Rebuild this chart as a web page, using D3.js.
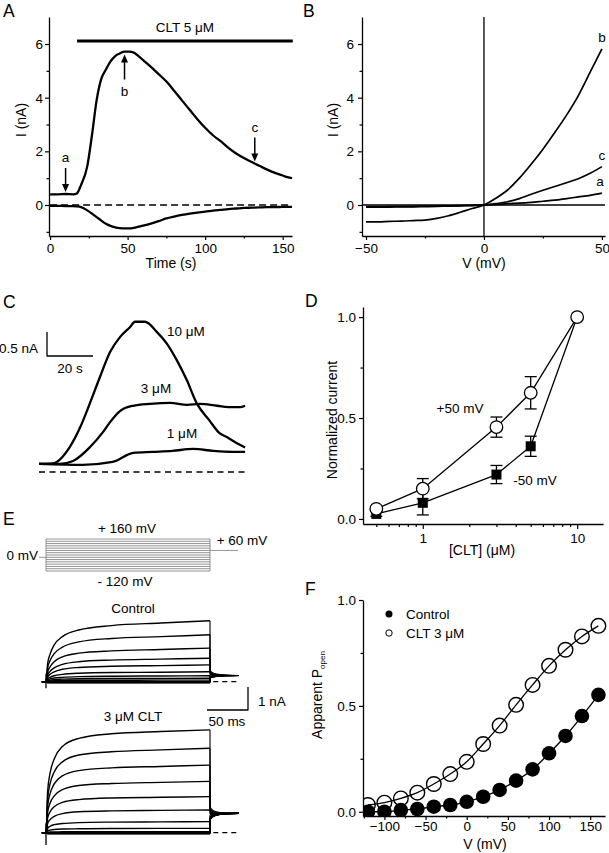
<!DOCTYPE html>
<html><head><meta charset="utf-8">
<script src="https://cdn.jsdelivr.net/npm/d3@7"></script>
<style>
html,body{margin:0;padding:0;background:#fff}
svg{display:block}
</style></head><body>
<svg id="fig" width="609" height="853"></svg>
<script>
// ================= DATA =================
// Panel A : current vs time
const aTime = [0,5,10,15,17,20,24,27,30,33,36,39,42,45,48,51,54,57,60,65,70,75,80,85,90,95,100,105,110,115,120,125,130,135,140,145,150,153,156];
const aOutward = [0.40,0.40,0.41,0.40,0.42,0.75,1.45,2.6,3.9,4.7,5.05,5.35,5.55,5.65,5.72,5.72,5.68,5.55,5.4,5.15,4.88,4.6,4.26,3.9,3.55,3.2,2.88,2.6,2.38,2.13,1.92,1.75,1.6,1.46,1.32,1.2,1.1,1.04,1.0];
const aInward = [-0.03,-0.03,-0.04,-0.04,-0.05,-0.08,-0.2,-0.32,-0.45,-0.58,-0.7,-0.78,-0.83,-0.86,-0.87,-0.87,-0.85,-0.81,-0.77,-0.69,-0.6,-0.5,-0.43,-0.37,-0.32,-0.28,-0.25,-0.21,-0.18,-0.15,-0.13,-0.11,-0.1,-0.09,-0.08,-0.08,-0.07,-0.07,-0.07];
const aMarkLabels = ['a','b','c'];
const aMarkTimes = [10,48,132];
const aMarkDirs = ['down','up','down'];
const aDrugLabel = 'CLT 5 μM';
const aDrugSpan = [17.4,156.5];
const aDrugLevel = 6.11;
const aYTicks = [0,2,4,6], aYMinor = [-1,1,3,5];
const aXTicks = [0,50,100,150], aXMinor = [25,75,125];

// Panel B : I-V ramps
const bVolt = [-50,-45,-40,-35,-30,-25,-20,-15,-10,-5,0,5,10,15,20,25,30,35,40,45,50];
const bTraceB = [-0.63,-0.63,-0.61,-0.6,-0.58,-0.56,-0.5,-0.4,-0.27,-0.13,0,0.25,0.56,1.0,1.52,2.08,2.7,3.35,4.08,4.95,5.82];
const bTraceC = [-0.06,-0.06,-0.05,-0.05,-0.05,-0.04,-0.04,-0.03,-0.02,-0.01,0,0.05,0.12,0.24,0.4,0.55,0.69,0.83,0.98,1.18,1.43];
const bTraceA = [-0.08,-0.08,-0.08,-0.07,-0.07,-0.06,-0.05,-0.04,-0.03,-0.02,0,0.02,0.05,0.07,0.1,0.14,0.18,0.24,0.3,0.36,0.44];
const bLabels = ['b','c','a'];
const bXTicks = [-50,0,50], bXMinor = [-25,25];

// Panel C : concentration traces (s, nA)
const c10T = [0,6,13.5,17.8,22.2,26.5,30.9,35.2,39.6,41.7,46.1,51.2,55.5,59.9,64.2,68.6,74,78.5,82,85,89.6];
const c10I = [0.17,0.18,0.53,0.92,1.44,1.98,2.5,2.81,3.02,3.13,3.13,2.92,2.68,2.33,1.92,1.43,1.08,0.81,0.72,0.63,0.51];
const c3T = [0,9,14.8,22.2,27.8,30.9,35.2,40.9,48.3,57,64.3,70,77.4,84.3,87.4,89.6];
const c3I = [0.17,0.17,0.23,0.52,0.83,1.04,1.27,1.38,1.42,1.44,1.40,1.42,1.38,1.35,1.35,1.38];
const c1T = [0,19,32,41,49.6,58,67,75.7,84.3,89.6];
const c1I = [0.17,0.15,0.21,0.40,0.42,0.44,0.48,0.44,0.42,0.42];
const cLabels = ['10 μM','3 μM','1 μM'];
const cBarI = 0.5, cBarT = 20;

// Panel D : concentration-response
const dConc = [0.5,1,3,5,10];
const dPos = [0.05,0.15,0.455,0.625,1.0];
const dPosErr = [0.012,0.05,0.05,0.08,0.0];
const dNeg = [0.025,0.08,0.22,0.36,1.0];
const dNegErr = [0.012,0.06,0.045,0.05,0.0];
const dSeriesLabels = ['+50 mV','-50 mV'];
const dXTicks = [1,10], dXMinor = [0.5,0.6,0.7,0.8,0.9,2,3,4,5,6,7,8,9];
const dYTicks = [0,0.5,1], dYMinor = [0.25,0.75];

// Panel E : voltage protocol and current families
const eVolts = [160,140,120,100,80,60,40,20,0,-20,-40,-60,-80,-100,-120];
const eTime = [-5,0,2,5,10,20,40,80,140,200];
const eTailTime = [200,201,205,212,222,235];
const eCtrl = [
 [0,0,0.8,1.2,1.6,1.96,2.25,2.44,2.55,2.65],
 [0,0,0.6,0.92,1.22,1.5,1.73,1.88,1.96,2.04],
 [0,0,0.42,0.65,0.87,1.08,1.24,1.34,1.4,1.46],
 [0,0,0.28,0.45,0.6,0.75,0.87,0.94,0.98,1.02],
 [0,0,0.2,0.32,0.43,0.54,0.62,0.67,0.7,0.73],
 [0,0,0.12,0.19,0.26,0.32,0.37,0.4,0.41,0.43],
 [0,0,0.08,0.12,0.16,0.19,0.22,0.24,0.25,0.26],
 [0,0,0.05,0.07,0.09,0.11,0.13,0.14,0.14,0.15],
 [0,0,0.02,0.03,0.04,0.05,0.06,0.06,0.07,0.07],
 [0,0,0,0,0,0,0,0,0,0],
 [0,0,-0.01,-0.01,-0.01,-0.01,-0.01,-0.01,-0.01,-0.01],
 [0,0,-0.02,-0.02,-0.02,-0.02,-0.02,-0.02,-0.02,-0.02],
 [0,0,-0.03,-0.03,-0.03,-0.03,-0.03,-0.03,-0.03,-0.03],
 [0,0,-0.04,-0.04,-0.04,-0.04,-0.04,-0.04,-0.04,-0.04],
 [0,0,-0.05,-0.05,-0.05,-0.05,-0.05,-0.05,-0.05,-0.05]];
const eCtrlTail = [
 [0.55,0.45,0.36,0.31,0.28,0.27],[0.5,0.42,0.34,0.3,0.28,0.27],[0.46,0.39,0.33,0.29,0.28,0.27],
 [0.42,0.37,0.31,0.29,0.27,0.27],[0.38,0.34,0.3,0.28,0.27,0.27],[0.34,0.31,0.29,0.28,0.27,0.27],
 [0.3,0.29,0.28,0.27,0.27,0.27],[0.26,0.26,0.26,0.27,0.27,0.27],[0.22,0.23,0.25,0.26,0.27,0.27],
 [0.19,0.21,0.24,0.26,0.27,0.27],[0.17,0.2,0.23,0.25,0.26,0.27],[0.16,0.19,0.22,0.25,0.26,0.27],
 [0.15,0.18,0.22,0.25,0.26,0.27],[0.15,0.18,0.22,0.24,0.26,0.27],[0.14,0.17,0.21,0.24,0.26,0.26]];
const eClt = [
 [0,0,1.8,2.6,3.2,3.75,4.1,4.3,4.4,4.47],
 [0,0,1.47,2.13,2.64,3.08,3.38,3.52,3.6,3.67],
 [0,0,1.18,1.7,2.12,2.47,2.7,2.82,2.88,2.94],
 [0,0,0.89,1.29,1.6,1.87,2.05,2.14,2.19,2.23],
 [0,0,0.63,0.91,1.13,1.32,1.44,1.51,1.54,1.57],
 [0,0,0.4,0.57,0.71,0.83,0.91,0.95,0.97,0.99],
 [0,0,0.19,0.28,0.35,0.4,0.44,0.46,0.47,0.48],
 [0,0,0.08,0.11,0.14,0.16,0.17,0.18,0.19,0.19],
 [0,0,0.02,0.03,0.03,0.04,0.04,0.04,0.04,0.04],
 [0,0,0,0,0,0,0,0,0,0],
 [0,0,-0.01,-0.01,-0.01,-0.01,-0.01,-0.01,-0.01,-0.01],
 [0,0,-0.02,-0.02,-0.02,-0.02,-0.02,-0.02,-0.02,-0.02],
 [0,0,-0.03,-0.03,-0.03,-0.03,-0.03,-0.03,-0.03,-0.03],
 [0,0,-0.04,-0.04,-0.04,-0.04,-0.04,-0.04,-0.04,-0.04],
 [0,0,-0.05,-0.05,-0.05,-0.05,-0.05,-0.05,-0.05,-0.05]];
const eCltTail = [
 [1.2,1.06,0.94,0.88,0.85,0.84],[1.12,1.0,0.91,0.87,0.85,0.84],[1.04,0.96,0.89,0.86,0.85,0.84],
 [0.97,0.92,0.87,0.85,0.84,0.84],[0.9,0.88,0.86,0.85,0.84,0.84],[0.83,0.84,0.84,0.84,0.84,0.84],
 [0.76,0.79,0.82,0.83,0.84,0.84],[0.68,0.73,0.79,0.82,0.83,0.84],[0.62,0.69,0.77,0.81,0.83,0.84],
 [0.58,0.66,0.75,0.8,0.83,0.84],[0.56,0.64,0.74,0.8,0.83,0.84],[0.55,0.63,0.74,0.8,0.83,0.84],
 [0.54,0.62,0.73,0.79,0.83,0.84],[0.54,0.62,0.73,0.79,0.82,0.84],[0.53,0.61,0.72,0.79,0.82,0.84]];
const eCapCtrl = [0.35,-0.28], eCapClt = [0.41,-0.53];
const eProtoLabels = ['+ 160 mV','+ 60 mV','0 mV','- 120 mV'];
const eTitles = ['Control','3 μM CLT'];
const eBarI = 1, eBarT = 50;

// Panel F : apparent Popen
const fVolt = [-120,-100,-80,-60,-40,-20,0,20,40,60,80,100,120,140,160];
const fControl = [0.0,0.0,0.008,0.013,0.024,0.032,0.047,0.071,0.103,0.147,0.2,0.276,0.358,0.452,0.552];
const fClt = [0.032,0.043,0.063,0.09,0.131,0.178,0.236,0.32,0.407,0.505,0.599,0.689,0.765,0.828,0.878];
const fLegend = ['Control','CLT 3 μM'];
const fXTicks = [-100,-50,0,50,100,150], fXMinor = [-125,-75,-25,25,75,125];
const fYTicks = [0,0.5,1], fYMinor = [0.25,0.75];

// ================= DRAWING =================
const FONT = '"Liberation Sans", Arial, Helvetica, sans-serif';
const FS = 13.5;
const svg = d3.select('#fig').attr('font-family', FONT);

function text(x, y, s, size = FS, anchor = 'start') {
  return svg.append('text').attr('x', x).attr('y', y).attr('font-size', size)
    .attr('text-anchor', anchor).attr('fill', '#000').text(s);
}
function vtext(x, y, s, size = 14) {
  return svg.append('text').attr('transform', `translate(${x},${y}) rotate(-90)`)
    .attr('font-size', size).attr('text-anchor', 'middle').attr('fill', '#000').text(s);
}
function styleAxis(g, fs) {
  g.attr('font-family', FONT).attr('font-size', fs);
  g.selectAll('.domain').attr('stroke', '#000').attr('stroke-width', 1.3);
  g.selectAll('.tick line').attr('stroke', '#000').attr('stroke-width', 1.2);
  g.selectAll('.tick text').attr('fill', '#000');
}
function leftAxis(scale, x, major, minor, fmt, pad = 3) {
  const g = svg.append('g').attr('transform', `translate(${x},0)`)
    .call(d3.axisLeft(scale).tickValues(major).tickSize(4).tickSizeOuter(0).tickPadding(pad).tickFormat(fmt));
  styleAxis(g, FS);
  if (minor) {
    const m = svg.append('g').attr('transform', `translate(${x},0)`)
      .call(d3.axisLeft(scale).tickValues(minor).tickSize(2.5).tickSizeOuter(0).tickFormat(''));
    m.select('.domain').remove(); styleAxis(m, FS);
  }
}
function bottomAxis(scale, y, major, minor, fmt, pad = 3) {
  const g = svg.append('g').attr('transform', `translate(0,${y})`)
    .call(d3.axisBottom(scale).tickValues(major).tickSize(4).tickSizeOuter(0).tickPadding(pad).tickFormat(fmt));
  styleAxis(g, FS);
  if (minor) {
    const m = svg.append('g').attr('transform', `translate(0,${y})`)
      .call(d3.axisBottom(scale).tickValues(minor).tickSize(2.5).tickSizeOuter(0).tickFormat(''));
    m.select('.domain').remove(); styleAxis(m, FS);
  }
}
function path(d, w = 1.5, dash = null, color = '#000') {
  const p = svg.append('path').attr('d', d).attr('fill', 'none').attr('stroke', color)
    .attr('stroke-width', w).attr('stroke-linejoin', 'round').attr('stroke-linecap', 'butt');
  if (dash) p.attr('stroke-dasharray', dash);
  return p;
}
function hline(x1, x2, y, w = 1.2, dash = null, color = '#000') {
  return path(`M${x1},${y}H${x2}`, w, dash, color);
}
function vline(x, y1, y2, w = 1.2, dash = null, color = '#000') {
  return path(`M${x},${y1}V${y2}`, w, dash, color);
}
function lerp(xs, ys, x) {
  const i = Math.max(1, d3.bisectLeft(xs, x));
  const t = (x - xs[i - 1]) / (xs[i] - xs[i - 1]);
  return ys[i - 1] + t * (ys[i] - ys[i - 1]);
}

// Panel letters
[['A',3,17],['B',303,17],['C',3,308],['D',305,307],['E',3,525],['F',305,595]]
  .forEach(([l,x,y]) => text(x, y, l, 17.5));

// ---------- Panel A ----------
{
  const x = d3.scaleLinear().domain([-0.7, 156]).range([49, 292]);
  const y = d3.scaleLinear().domain([-1.155, 7.007]).range([236, 17]);
  leftAxis(y, 49, aYTicks, aYMinor, d3.format('d'), 2);
  bottomAxis(x, 236, aXTicks, aXMinor, d3.format('d'));
  vtext(26, 120, 'I (nA)');
  text(171, 268, 'Time (s)', 14, 'middle');
  hline(x(0), x(156), y(0), 1.3, '7,4');
  const ln = d3.line().x(d => x(d[0])).y(d => y(d[1])).curve(d3.curveMonotoneX);
  path(ln(d3.zip(aTime, aOutward)), 2.3);
  path(ln(d3.zip(aTime, aInward)), 2.3);
  // drug application bar
  hline(x(aDrugSpan[0]), x(aDrugSpan[1]), y(aDrugLevel), 3);
  text((x(aDrugSpan[0]) + x(aDrugSpan[1])) / 2, 32, aDrugLabel, FS, 'middle');
  // arrows
  aMarkTimes.forEach((t, i) => {
    const xv = x(t), yt = y(lerp(aTime, aOutward, t));
    if (aMarkDirs[i] === 'down') {
      const tip = yt - 2, tail = tip - 24;
      vline(xv, tail, tip - 6, 1.5);
      svg.append('path').attr('d', `M${xv-3.5},${tip-8}L${xv+3.5},${tip-8}L${xv},${tip}Z`).attr('fill', '#000');
      text(xv, tail - 6, aMarkLabels[i], FS, 'middle');
    } else {
      const tip = yt + 3, tail = tip + 25;
      vline(xv, tip + 6, tail, 1.5);
      svg.append('path').attr('d', `M${xv-3.5},${tip+8}L${xv+3.5},${tip+8}L${xv},${tip}Z`).attr('fill', '#000');
      text(xv, tail + 16, aMarkLabels[i], FS, 'middle');
    }
  });
}

// ---------- Panel B ----------
{
  const x = d3.scaleLinear().domain([-51.7, 51.3]).range([362, 605]);
  const y = d3.scaleLinear().domain([-1.155, 7.007]).range([236, 17]);
  leftAxis(y, 362, aYTicks, aYMinor, d3.format('d'), 4);
  bottomAxis(x, 236, bXTicks, bXMinor, d3.format('d'));
  vtext(338, 120, 'I (nA)');
  text(484, 268, 'V (mV)', 14, 'middle');
  vline(x(0), 17, 236, 1.3);
  hline(362, 605, y(0), 1.3);
  const ln = d3.line().x(d => x(d[0])).y(d => y(d[1])).curve(d3.curveMonotoneX);
  [bTraceB, bTraceC, bTraceA].forEach((tr, i) => {
    path(ln(d3.zip(bVolt, tr)), 1.7);
    const last = tr[tr.length - 1];
    text(x(50) - (i === 2 ? 2 : 0), y(last) - 7, bLabels[i], FS, 'middle');
  });
}

// ---------- Panel C ----------
{
  const x = d3.scaleLinear().domain([0, 90]).range([39, 246]);
  const y = d3.scaleLinear().domain([0, 3.5]).range([472, 304]);
  const ln = d3.line().x(d => x(d[0])).y(d => y(d[1])).curve(d3.curveMonotoneX);
  hline(x(0), x(90.5), y(0), 1.3, '6,4.5');
  path(ln(d3.zip(c10T, c10I)), 2.3);
  path(ln(d3.zip(c3T, c3I)), 2.3);
  path(ln(d3.zip(c1T, c1I)), 2.3);
  // scale bar
  const bx = 47, by = 356;
  const barH = y(0) - y(cBarI), barW = x(cBarT) - x(0);
  path(`M${bx},${by - barH}V${by}H${bx + barW}`, 1.3);
  text(bx - 9, 353, '0.5 nA', FS, 'end');
  text(bx + barW / 2, 373, '20 s', FS, 'middle');
  text(167, 336, cLabels[0], FS, 'start');
  text(156, 393, cLabels[1], FS, 'middle');
  text(182, 438, cLabels[2], FS, 'middle');
}

// ---------- Panel D ----------
{
  const x = d3.scaleLog().domain([0.41, 14.7]).range([363, 603]);
  const y = d3.scaleLinear().domain([-0.025, 1.05]).range([524, 307]);
  leftAxis(y, 363, dYTicks, dYMinor, d3.format('.1f'), 3);
  const g = svg.append('g').attr('transform', 'translate(0,524)')
    .call(d3.axisBottom(x).tickValues(dXTicks).tickSize(5).tickSizeOuter(0).tickPadding(4).tickFormat(d3.format('d')));
  styleAxis(g, FS);
  const m = svg.append('g').attr('transform', 'translate(0,524)')
    .call(d3.axisBottom(x).tickValues(dXMinor).tickSize(3).tickSizeOuter(0).tickFormat(''));
  m.select('.domain').remove(); styleAxis(m, FS);
  vtext(337, 420, 'Normalized current');
  text(482, 555, '[CLT] (μM)', 14, 'middle');
  const ln = d3.line().x(d => x(d[0])).y(d => y(d[1]));
  path(ln(d3.zip(dConc, dPos)), 1.3);
  path(ln(d3.zip(dConc, dNeg)), 1.3);
  const errs = (vals, errsArr) => vals.forEach((v, i) => {
    if (!errsArr[i]) return;
    const cx = x(dConc[i]), y1 = y(v + errsArr[i]), y2 = y(v - errsArr[i]);
    vline(cx, y1, y2, 1.3);
    hline(cx - 6, cx + 6, y1, 1.3);
    hline(cx - 6, cx + 6, y2, 1.3);
  });
  errs(dPos, dPosErr); errs(dNeg, dNegErr);
  dNeg.forEach((v, i) => svg.append('rect').attr('x', x(dConc[i]) - 5).attr('y', y(v) - 5)
    .attr('width', 10).attr('height', 10).attr('fill', '#000'));
  dPos.forEach((v, i) => svg.append('circle').attr('cx', x(dConc[i])).attr('cy', y(v)).attr('r', 6.3)
    .attr('fill', '#fff').attr('stroke', '#000').attr('stroke-width', 1.3));
  text(460, 413, dSeriesLabels[0], FS, 'middle');
  text(535, 485, dSeriesLabels[1], FS, 'middle');
}

// ---------- Panel E ----------
{
  const x = d3.scaleLinear().domain([0, 200]).range([46, 210]);
  const yp = d3.scaleLinear().domain([-120, 160]).range([571, 539]);
  const gray = '#7a7a7a';
  eVolts.forEach(v => hline(x(0), x(200), yp(v), 0.8, null, gray));
  vline(x(0), yp(-120), yp(160), 0.8, null, gray);
  vline(x(200), yp(-120), yp(160), 0.8, null, gray);
  hline(39, x(0), yp(0), 0.8, null, gray);
  hline(x(200), 238, yp(60), 0.8, null, gray);
  text(127, 533, eProtoLabels[0], FS, 'middle');
  text(242, 545, eProtoLabels[1], FS, 'middle');
  text(38, 560, eProtoLabels[2], FS, 'end');
  text(125, 586, eProtoLabels[3], FS, 'middle');

  const family = (data, tails, cap, y0, title, titleY) => {
    const y = d3.scaleLinear().domain([0, 1]).range([y0, y0 - 23]);
    const ln = d3.line().x(d => x(d[0])).y(d => y(d[1])).curve(d3.curveMonotoneX);
    for (let i = data.length - 1; i >= 0; i--) {
      const tr = data[i];
      path(ln(d3.zip(eTime, tr)), 1.4);
      const tp = ln(d3.zip(eTailTime, tails[i]));
      path(`M${x(200)},${y(tr[tr.length - 1])}L` + tp.slice(1), 1.1);
    }
    vline(x(0), y(cap[0]), y(cap[1]), 1.3);
    hline(x(204), x(235), y(0), 1.2, '5,4');
    text(133, titleY, title, FS, 'middle');
  };
  family(eCtrl, eCtrlTail, eCapCtrl, 681.7, eTitles[0], 613);
  family(eClt, eCltTail, eCapClt, 832.7, eTitles[1], 721);
  const barH = 23 * eBarI, barW = x(eBarT) - x(0);
  path(`M${248 - barW},710H248V${710 - barH}`, 1.3);
  text(258, 706, '1 nA', FS, 'start');
  text(227, 726, '50 ms', FS, 'middle');
}

// ---------- Panel F ----------
{
  const x = d3.scaleLinear().domain([-126, 168]).range([363, 605]);
  const y = d3.scaleLinear().domain([-0.02, 1.0]).range([816, 600]);
  leftAxis(y, 363, fYTicks, fYMinor, d3.format('.1f'), 3);
  bottomAxis(x, 816, fXTicks, fXMinor, d3.format('d'), 1.5);
  const lab = svg.append('text').attr('transform', 'translate(322,695) rotate(-90)')
    .attr('font-size', 14).attr('text-anchor', 'middle').attr('fill', '#000');
  lab.append('tspan').text('Apparent P');
  lab.append('tspan').attr('font-size', 8).attr('dy', 3).text('open');
  text(485, 849, 'V (mV)', 14, 'middle');
  svg.append('clipPath').attr('id', 'fclip').append('rect').attr('x', 364).attr('y', 585).attr('width', 245).attr('height', 231);
  const g = svg.append('g').attr('clip-path', 'url(#fclip)');
  const ln = d3.line().x(d => x(d[0])).y(d => y(d[1])).curve(d3.curveMonotoneX);
  g.append('path').attr('d', ln(d3.zip(fVolt, fClt))).attr('fill', 'none').attr('stroke', '#000').attr('stroke-width', 1.3);
  g.append('path').attr('d', ln(d3.zip(fVolt, fControl))).attr('fill', 'none').attr('stroke', '#000').attr('stroke-width', 1.3);
  fVolt.forEach((v, i) => g.append('circle').attr('cx', x(v)).attr('cy', y(fControl[i])).attr('r', 7.3).attr('fill', '#000'));
  fVolt.forEach((v, i) => g.append('circle').attr('cx', x(v)).attr('cy', y(fClt[i])).attr('r', 7.3)
    .attr('fill', 'none').attr('stroke', '#000').attr('stroke-width', 1.4));
  svg.append('circle').attr('cx', 389).attr('cy', 614).attr('r', 3.5).attr('fill', '#000');
  svg.append('circle').attr('cx', 389).attr('cy', 633).attr('r', 3.2).attr('fill', 'none').attr('stroke', '#000').attr('stroke-width', 1);
  text(406, 619, fLegend[0], FS, 'start');
  text(406, 638, fLegend[1], FS, 'start');
}
</script>
</body></html>
